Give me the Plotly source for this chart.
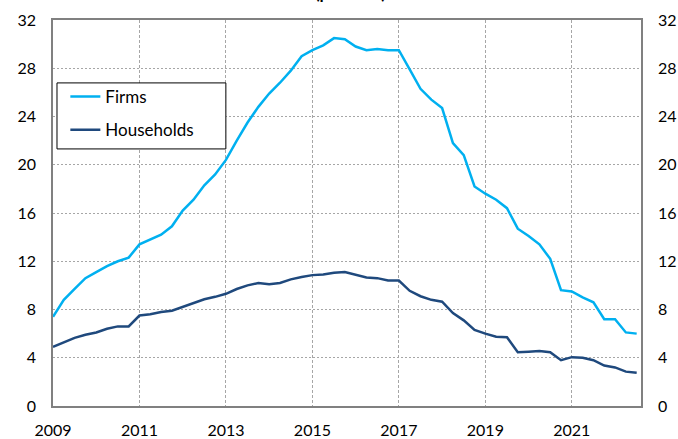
import plotly.graph_objects as go

quarters = [2009 + 0.25 * i for i in range(55)]

firms = [
    7.4, 8.8, 9.7, 10.6,
    11.1, 11.6, 12.0, 12.3,
    13.4, 13.8, 14.2, 14.9,
    16.2, 17.1, 18.3, 19.2,
    20.4, 22.0, 23.5, 24.8,
    25.9, 26.8, 27.8, 29.0,
    29.5, 29.9, 30.5, 30.4,
    29.8, 29.5, 29.6, 29.5,
    29.5, 27.9, 26.3, 25.4,
    24.7, 21.8, 20.8, 18.2,
    17.6, 17.1, 16.4, 14.7,
    14.1, 13.4, 12.2, 9.6,
    9.5, 9.0, 8.6, 7.2,
    7.2, 6.1, 6.0,
]

households = [
    4.9, 5.25, 5.65, 5.9,
    6.1, 6.4, 6.6, 6.6,
    7.5, 7.6, 7.8, 7.9,
    8.2, 8.5, 8.85, 9.05,
    9.3, 9.7, 10.0, 10.2,
    10.1, 10.2, 10.5, 10.7,
    10.85, 10.9, 11.05, 11.1,
    10.85, 10.65, 10.6, 10.4,
    10.4, 9.55, 9.1, 8.8,
    8.65, 7.7, 7.1, 6.3,
    6.0, 5.75, 5.7, 4.45,
    4.5, 4.55, 4.45, 3.8,
    4.05, 4.0, 3.8, 3.35,
    3.2, 2.85, 2.75,
]

x_ticks = [2009, 2011, 2013, 2015, 2017, 2019, 2021]
y_ticks = [0, 4, 8, 12, 16, 20, 24, 28, 32]

FONT = "Lato"
grid_col = "#A6A6A6"
frame_col = "#808080"

fig = go.Figure()
fig.add_trace(go.Scatter(x=quarters, y=firms, mode="lines", name="Firms",
                         line=dict(color="#00B0F0", width=2.5), legendgroup="a"))
fig.add_trace(go.Scatter(x=quarters, y=households, mode="lines", name="Households",
                         line=dict(color="#1F497D", width=2.5), legendgroup="b"))
# invisible trace to carry the right-hand axis
fig.add_trace(go.Scatter(x=quarters, y=firms, mode="lines", yaxis="y2",
                         line=dict(width=0), opacity=0, showlegend=False, hoverinfo="skip"))

fig.update_layout(
    width=678, height=439,
    margin=dict(l=53, r=37, t=20, b=33),
    paper_bgcolor="white", plot_bgcolor="white",
    font=dict(family=FONT, size=16, color="black"),
    showlegend=True,
    legend=dict(x=0.021, y=0.847, xanchor="left", yanchor="top",
                borderwidth=0, bgcolor="rgba(0,0,0,0)",
                font=dict(family=FONT, size=17), tracegroupgap=8,
                itemwidth=30),
    xaxis=dict(range=[2009, 2022.6], tickvals=x_ticks, ticktext=[str(v) for v in x_ticks],
               showgrid=True, gridcolor=grid_col, griddash="3px,2px", gridwidth=1,
               showline=True, linecolor=frame_col, linewidth=1.5, mirror=True,
               ticks="", zeroline=False, tickfont=dict(size=16),
               ticklabelstandoff=9, automargin=False),
    yaxis=dict(range=[0, 32], tickvals=y_ticks, showgrid=True, gridcolor=grid_col,
               griddash="2px,2px", gridwidth=1, showline=True, linecolor=frame_col,
               linewidth=1.5, mirror=True, ticks="", zeroline=False,
               tickfont=dict(size=16), ticklabelstandoff=12, automargin=False),
    yaxis2=dict(range=[0, 32], tickvals=y_ticks, overlaying="y", side="right",
                showgrid=False, showline=False, ticks="", zeroline=False,
                tickfont=dict(size=16), ticklabelstandoff=16, automargin=False),
    shapes=[dict(type="rect", xref="paper", yref="paper",
                 x0=0.0068, x1=0.294, y0=0.666, y1=0.837,
                 line=dict(color="black", width=1), fillcolor="white", layer="above")],
    annotations=[dict(text="<b>(per cent)</b>", xref="paper", yref="paper",
                      x=0.506, y=1.0, yshift=15, xanchor="center", yanchor="bottom",
                      showarrow=False, font=dict(size=17, family=FONT))],
)

fig.write_html("out.html", config={"displayModeBar": False},
               post_script="document.body.style.margin='0';document.body.style.padding='0';")
